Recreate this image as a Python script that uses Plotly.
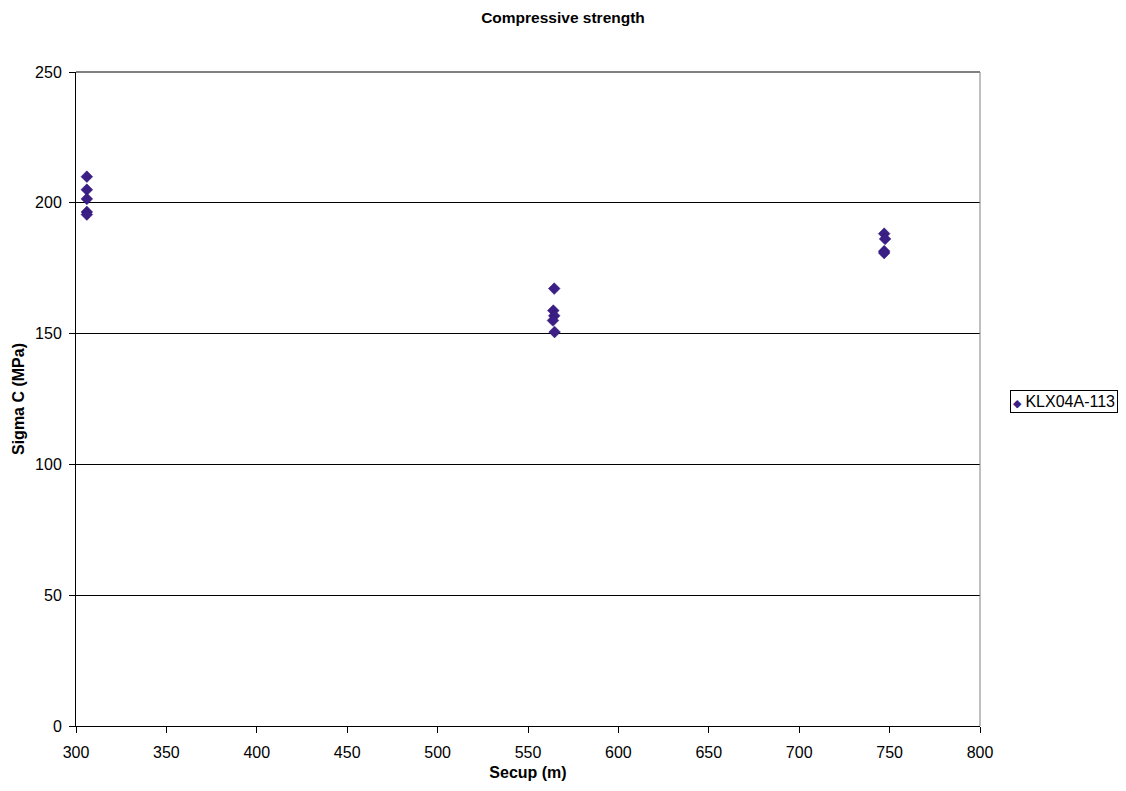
import plotly.graph_objects as go

secup = [306, 306, 306, 306, 306,
         564.5, 564, 564.5, 563.8, 564.7,
         747, 747.5, 747, 747]
sigma_c = [210, 205, 201.5, 196.5, 195.5,
           167.2, 158.8, 156.8, 155, 150.6,
           188.2, 186.2, 181.5, 180.8]
series_name = "KLX04A-113"
marker_color = "#3b1f86"

W, H = 1110, 775
fig = go.Figure()
fig.add_trace(go.Scatter(
    x=secup, y=sigma_c, mode="markers", name=series_name, showlegend=False,
    marker=dict(symbol="diamond", size=9, color=marker_color,
                line=dict(width=0.5, color="#2a1570")),
))

font = "Liberation Sans, Arial, sans-serif"
fig.update_layout(
    width=W, height=H,
    margin=dict(l=68, r=138, t=64, b=57, autoexpand=False),
    paper_bgcolor="white", plot_bgcolor="white",
    font=dict(family=font, size=16, color="black"),
    title=dict(text="<b>Compressive strength</b>", x=0.5, xanchor="center",
               y=1 - 10 / H, yanchor="middle",
               font=dict(size=15.5, family=font)),
    xaxis=dict(range=[300, 800], dtick=50, showgrid=False, zeroline=False,
               showline=True, linecolor="black", linewidth=1, mirror=False,
               ticks="outside", ticklen=6, tickcolor="black", automargin=False,
               ticklabelstandoff=6,
               title=dict(text="<b>Secup (m)</b>", font=dict(size=16), standoff=6),
               tickfont=dict(size=16)),
    yaxis=dict(range=[0, 250], dtick=50, showgrid=True, gridcolor="black",
               gridwidth=1, zeroline=False, showline=True, linecolor="black",
               linewidth=1, ticks="outside", ticklen=6, tickcolor="black",
               automargin=False, ticklabelstandoff=4,
               title=dict(text="<b>Sigma C (MPa)</b>", font=dict(size=16), standoff=6),
               tickfont=dict(size=16)),
)
# legend box (drawn as annotation so it fits the original narrow box)
fig.add_annotation(
    xref="paper", yref="paper", x=1.0 + 30 / 904, y=0.5 + (398 - 400) / 654,
    xanchor="left", yanchor="middle", showarrow=False,
    text=f'<span style="color:{marker_color};font-size:11px">\u25C6</span> {series_name}',
    font=dict(size=16, family=font, color="black"),
    bordercolor="black", borderwidth=1, borderpad=2, bgcolor="white", align="left",
)
fig.add_shape(type="line", xref="paper", yref="paper", x0=0, x1=1, y0=1, y1=1,
              line=dict(color="#808080", width=2))
fig.add_shape(type="line", xref="paper", yref="paper", x0=1, x1=1, y0=0, y1=1,
              line=dict(color="#808080", width=1))

fig.write_html("out.html")
